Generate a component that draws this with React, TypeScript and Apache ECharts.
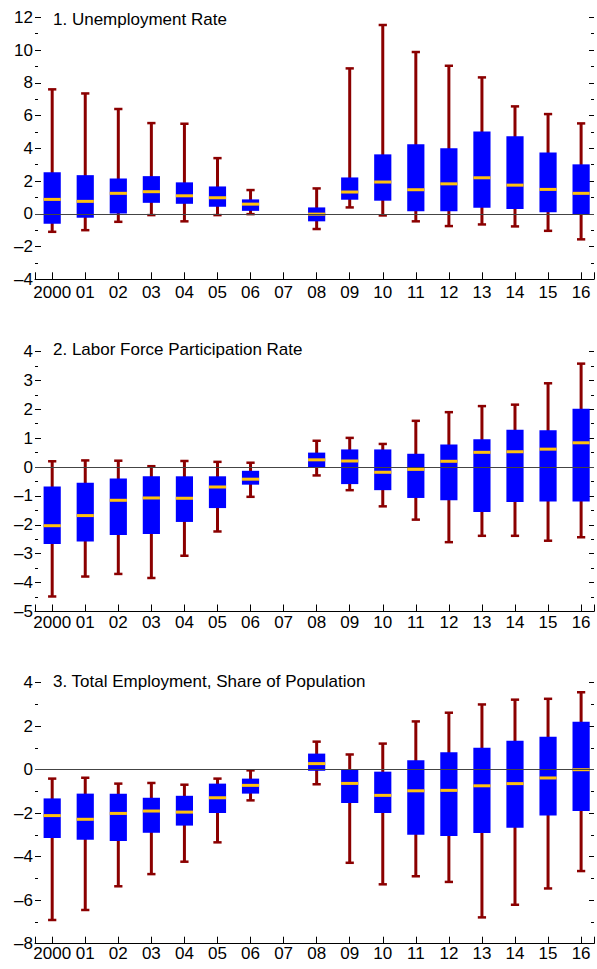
import React, { useEffect, useRef } from "react";
import * as echarts from "echarts";

const years = ["2000", "01", "02", "03", "04", "05", "06", "07", "08", "09", "10", "11", "12", "13", "14", "15", "16"];

const titles = ["1. Unemployment Rate", "2. Labor Force Participation Rate", "3. Total Employment, Share of Population"];

// Panel 1: Unemployment rate
const unMin = [-1.1, -1.0, -0.49, -0.08, -0.46, -0.08, -0.02, null, -0.93, 0.39, -0.1, -0.46, -0.75, -0.65, -0.77, -1.04, -1.56];
const unQ1 = [-0.61, -0.24, 0.02, 0.67, 0.61, 0.43, 0.18, null, -0.46, 0.86, 0.8, 0.15, 0.15, 0.37, 0.29, 0.09, -0.02];
const unMed = [0.88, 0.76, 1.25, 1.35, 1.1, 0.98, 0.59, null, -0.02, 1.33, 1.94, 1.47, 1.83, 2.2, 1.75, 1.49, 1.25];
const unQ3 = [2.53, 2.36, 2.16, 2.3, 1.92, 1.67, 0.88, null, 0.39, 2.22, 3.63, 4.24, 4.0, 5.03, 4.73, 3.75, 3.02];
const unMax = [7.6, 7.35, 6.4, 5.54, 5.5, 3.4, 1.45, null, 1.55, 8.88, 11.53, 9.88, 9.04, 8.33, 6.56, 6.09, 5.52];

// Panel 2: Labor force participation rate
const lfMin = [-4.48, -3.79, -3.7, -3.84, -3.07, -2.23, -1.03, null, -0.29, -0.8, -1.36, -1.82, -2.6, -2.38, -2.38, -2.55, -2.43];
const lfQ1 = [-2.66, -2.58, -2.35, -2.32, -1.9, -1.42, -0.61, null, 0, -0.59, -0.8, -1.07, -1.15, -1.56, -1.21, -1.19, -1.19];
const lfMed = [-2.03, -1.68, -1.15, -1.07, -1.08, -0.69, -0.42, null, 0.25, 0.21, -0.18, -0.08, 0.2, 0.51, 0.53, 0.62, 0.84];
const lfQ3 = [-0.67, -0.54, -0.4, -0.32, -0.32, -0.32, -0.13, null, 0.5, 0.61, 0.61, 0.46, 0.78, 0.96, 1.29, 1.27, 2.02];
const lfMax = [0.2, 0.23, 0.22, 0.03, 0.21, 0.18, 0.15, null, 0.91, 1.01, 0.8, 1.6, 1.9, 2.11, 2.16, 2.9, 3.58];

// Panel 3: Total employment, share of population
const emMin = [-6.91, -6.45, -5.36, -4.8, -4.23, -3.34, -1.41, null, -0.67, -4.28, -5.27, -4.9, -5.16, -6.79, -6.21, -5.46, -4.66];
const emQ1 = [-3.14, -3.22, -3.28, -2.9, -2.57, -1.99, -1.1, null, -0.05, -1.53, -1.99, -2.99, -3.05, -2.91, -2.67, -2.11, -1.9];
const emMed = [-2.11, -2.28, -2.01, -1.9, -1.95, -1.29, -0.72, null, 0.28, -0.63, -1.18, -0.97, -0.95, -0.74, -0.64, -0.38, 0.0];
const emQ3 = [-1.32, -1.1, -1.1, -1.29, -1.2, -0.64, -0.41, null, 0.74, 0, -0.09, 0.43, 0.8, 1.01, 1.33, 1.52, 2.21];
const emMax = [-0.41, -0.37, -0.64, -0.61, -0.69, -0.41, -0.03, null, 1.29, 0.7, 1.2, 2.22, 2.62, 3.0, 3.22, 3.26, 3.56];

const yMins = [-4, -5, -8];
const yMaxs = [12, 4, 4];
const yIntervals = [2, 1, 2];

const FONT = "'Liberation Sans', Arial, sans-serif";
const BOX = "#0000FF";
const WHISK = "#8B0000";
const MED = "#FFC20E";

const buildData = (mn, q1, md, q3, mx) =>
  years
    .map((_, i) => [i, mn[i], q1[i], md[i], q3[i], mx[i]])
    .filter((d) => d[1] !== null && d[1] !== undefined);

const renderBox = (params: any, api: any) => {
  const x = api.value(0);
  const lo = api.coord([x, api.value(1)]);
  const q1 = api.coord([x, api.value(2)]);
  const md = api.coord([x, api.value(3)]);
  const q3 = api.coord([x, api.value(4)]);
  const hi = api.coord([x, api.value(5)]);
  const w = api.size([1, 0])[0] * 0.52;
  const cap = w * 0.48;
  const cx = lo[0];
  return {
    type: "group",
    children: [
      { type: "line", shape: { x1: cx, y1: hi[1], x2: cx, y2: lo[1] }, style: { stroke: WHISK, lineWidth: 3 } },
      { type: "line", shape: { x1: cx - cap / 2, y1: hi[1], x2: cx + cap / 2, y2: hi[1] }, style: { stroke: WHISK, lineWidth: 2.5 } },
      { type: "line", shape: { x1: cx - cap / 2, y1: lo[1], x2: cx + cap / 2, y2: lo[1] }, style: { stroke: WHISK, lineWidth: 2.5 } },
      { type: "rect", shape: { x: cx - w / 2, y: q3[1], width: w, height: q1[1] - q3[1] }, style: { fill: BOX } },
      { type: "line", shape: { x1: cx - w / 2, y1: md[1], x2: cx + w / 2, y2: md[1] }, style: { stroke: MED, lineWidth: 3 } },
    ],
  };
};

export default function App() {
  const ref = useRef<HTMLDivElement>(null);

  useEffect(() => {
    if (!ref.current) return;
    const chart = echarts.init(ref.current, null, { renderer: "svg" });
    const datasets = [
      buildData(unMin, unQ1, unMed, unQ3, unMax),
      buildData(lfMin, lfQ1, lfMed, lfQ3, lfMax),
      buildData(emMin, emQ1, emMed, emQ3, emMax),
    ];
    const gridTops = [17.3, 351.5, 682.7];
    const gridHeights = [262, 260, 261];
    const titleTops = [10.5, 341, 672.5];
    const labelMargins = [5, 2, 1];

    const option: any = {
      animation: false,
      backgroundColor: "#fff",
      title: titles.map((t, i) => ({
        text: t,
        left: 53,
        top: titleTops[i],
        padding: 0,
        textStyle: { fontSize: 17, fontWeight: "normal", color: "#000", fontFamily: FONT },
      })),
      grid: gridTops.map((top, i) => ({ left: 35, width: 561, top, height: gridHeights[i], containLabel: false })),
      xAxis: gridTops.map((_, i) => ({
        type: "value",
        gridIndex: i,
        min: -0.52,
        max: 16.39,
        minInterval: 1,
        maxInterval: 1,
        splitNumber: 17,
        axisLine: { show: true, onZero: false, lineStyle: { color: "#000", width: 1 } },
        axisTick: { show: true, inside: true, length: 7, lineStyle: { color: "#000", width: 1 } },
        axisLabel: {
          show: true,
          margin: labelMargins[i],
          fontSize: 17,
          color: "#000",
          fontFamily: FONT,
          formatter: (v: number) => (Number.isInteger(v) && years[v] !== undefined ? years[v] : ""),
        },
        splitLine: { show: false },
      })),
      yAxis: [0, 1, 2].flatMap((i) => [
        {
          type: "value",
          gridIndex: i,
          position: "left",
          min: yMins[i],
          max: yMaxs[i],
          interval: yIntervals[i],
          axisLine: { show: false, onZero: false },
          axisTick: { show: true, inside: true, length: 6, lineStyle: { color: "#000", width: 1 } },
          minorTick: { show: true, splitNumber: 2, length: 3, lineStyle: { color: "#000", width: 1 } },
          axisLabel: {
            margin: 2,
            fontSize: 17,
            color: "#000",
            fontFamily: FONT,
            formatter: (v: number) => String(v).replace("-", "\u2013"),
          },
          splitLine: { show: false },
          minorSplitLine: { show: false },
        },
        {
          type: "value",
          gridIndex: i,
          position: "right",
          min: yMins[i],
          max: yMaxs[i],
          interval: yIntervals[i],
          axisLine: { show: false, onZero: false },
          axisTick: { show: true, inside: true, length: 5, lineStyle: { color: "#000", width: 1 } },
          minorTick: { show: true, splitNumber: 2, length: 3, lineStyle: { color: "#000", width: 1 } },
          axisLabel: { show: false },
          splitLine: { show: false },
          minorSplitLine: { show: false },
        },
      ]),
      series: datasets.map((data, i) => ({
        type: "custom",
        xAxisIndex: i,
        yAxisIndex: i * 2,
        silent: true,
        renderItem: renderBox,
        encode: { x: 0, y: [1, 2, 3, 4, 5] },
        data,
        z: 2,
        markLine: {
          silent: true,
          symbol: "none",
          z: 5,
          label: { show: false },
          lineStyle: { color: "#444", width: 1, type: "solid" },
          emphasis: { disabled: true },
          data: [{ yAxis: 0 }],
        },
      })),
    };
    chart.setOption(option);
    return () => chart.dispose();
  }, []);

  return (
    <div
      ref={ref}
      style={{ position: "fixed", left: 0, top: 0, width: 597, height: 969, background: "#fff" }}
    />
  );
}
